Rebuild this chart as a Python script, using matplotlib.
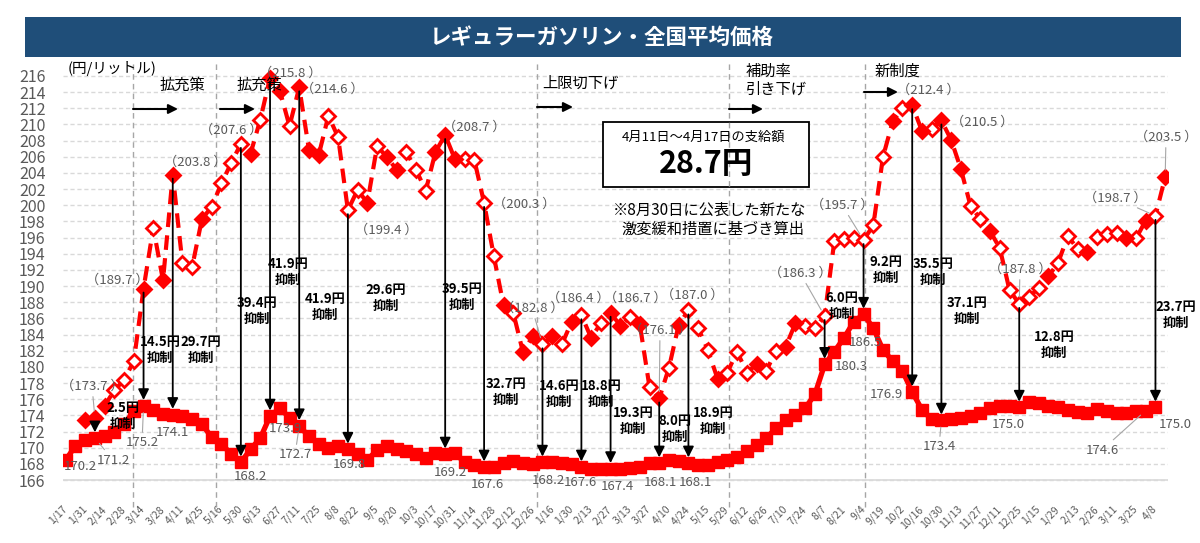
import matplotlib
matplotlib.use('Agg')
import matplotlib.pyplot as plt
import numpy as np
from matplotlib.patches import Rectangle

plt.rcParams['font.family'] = ['Noto Sans CJK JP', 'DejaVu Sans']

W, H = 1200, 543

# x-axis labels (every other weekly survey)
week_labels = ['1/17', '1/31', '2/14', '2/28', '3/14', '3/28', '4/11', '4/25', '5/16', '5/30',
               '6/13', '6/27', '7/11', '7/25', '8/8', '8/22', '9/5', '9/20', '10/3', '10/17',
               '10/31', '11/14', '11/28', '12/12', '12/26', '1/16', '1/30', '2/13', '2/27', '3/13',
               '3/27', '4/10', '4/24', '5/15', '5/29', '6/12', '6/26', '7/10', '7/24', '8/7',
               '8/21', '9/4', '9/19', '10/2', '10/16', '10/30', '11/13', '11/27', '12/11', '12/25',
               '1/15', '1/29', '2/13', '2/26', '3/11', '3/25', '4/8']

# national average with subsidy (solid)
price_actual = [168.5, 170.2, 171.0, 171.2, 171.5, 172.0, 172.9, 174.5, 175.2, 174.7,
                174.2, 174.1, 173.9, 173.6, 172.9, 171.3, 170.5, 169.2, 168.2, 169.8,
                171.2, 173.9, 174.9, 173.7, 172.7, 171.4, 170.4, 170.0, 170.2, 169.8,
                169.2, 168.5, 169.7, 170.2, 169.9, 169.6, 169.2, 168.7, 169.3, 169.2,
                169.3, 168.2, 167.9, 167.6, 167.6, 168.1, 168.3, 168.1, 168.0, 168.2,
                168.2, 168.1, 168.0, 167.6, 167.4, 167.4, 167.4, 167.4, 167.5, 167.6,
                168.1, 168.1, 168.5, 168.3, 168.1, 167.9, 167.9, 168.2, 168.5, 168.9,
                169.6, 170.3, 171.2, 172.4, 173.4, 174.1, 174.9, 176.6, 180.3, 181.9,
                183.6, 185.6, 186.5, 184.8, 182.1, 180.7, 179.5, 176.9, 174.7, 173.5,
                173.4, 173.6, 173.7, 173.9, 174.3, 174.9, 175.2, 175.2, 175.0, 175.7,
                175.5, 175.2, 175.0, 174.7, 174.4, 174.3, 174.8, 174.5, 174.3, 174.3,
                174.5, 174.6, 175.0]

# estimated price without subsidy (dashed)
price_no_subsidy = [np.nan, np.nan, 173.4, 173.7, 175.2, 177.1, 178.4, 180.7, 189.7, 197.2,
                    190.7, 203.8, 192.8, 192.4, 198.3, 199.8, 202.7, 205.2, 207.6, 206.4,
                    210.6, 215.8, 214.2, 209.8, 214.6, 206.9, 206.2, 211.1, 208.4, 199.4,
                    201.9, 200.3, 207.3, 206.0, 204.4, 206.6, 204.4, 201.8, 206.6, 208.7,
                    205.7, 205.7, 205.6, 200.3, 193.7, 187.6, 186.7, 181.8, 183.8, 182.8,
                    183.8, 182.8, 185.6, 186.4, 183.6, 185.4, 186.7, 185.1, 186.2, 185.3,
                    177.5, 176.1, 179.9, 185.2, 187.0, 184.8, 182.1, 178.5, 179.3, 181.9,
                    179.3, 180.3, 179.5, 182.0, 182.5, 185.4, 185.1, 184.8, 186.3, 195.6,
                    195.8, 196.0, 195.7, 197.5, 206.0, 210.4, 212.0, 212.4, 209.2, 209.5,
                    210.5, 208.1, 204.5, 199.9, 198.3, 196.8, 194.7, 189.5, 187.8, 188.6,
                    189.8, 191.2, 192.9, 196.2, 194.6, 194.2, 196.1, 196.5, 196.6, 195.9,
                    195.9, 198.1, 198.7, 203.5]

filled_points = [2, 3, 4, 8, 10, 11, 14, 19, 21, 22, 24, 25, 26, 31, 33, 34, 38, 39, 40, 45,
                 47, 48, 50, 52, 54, 56, 57, 59, 61, 63, 67, 71, 74, 75, 85, 87, 88, 90, 91,
                 92, 95, 101, 105, 109, 111, 113]

# weeks with a suppression arrow
arrow_weeks = [3, 8, 11, 18, 21, 24, 29, 39, 43, 49, 53, 56, 61, 64, 78, 82, 87, 90, 98, 112]

# policy change separators (position in weeks)
separators = [6.95, 15.45, 48.4, 68.2, 82.1]

# ---- label layout (figure pixels from top-left) ----
no_subsidy_label_pos = [(3, 92, 386, True), (8, 117, 280, False), (11, 195, 162, False),
                        (18, 231, 130, False), (21, 290, 73, False), (24, 332, 89, False),
                        (29, 386, 230, False), (39, 474, 127, False), (43, 524, 204, False),
                        (49, 532, 308, True), (53, 578, 298, False), (56, 635, 298, False),
                        (61, 660, 330, True), (64, 692, 295, False), (78, 800, 273, True),
                        (82, 842, 205, True), (87, 928, 90, False), (90, 982, 122, False),
                        (98, 1020, 269, True), (112, 1115, 198, True), (113, 1166, 137, True)]
actual_label_pos = [(1, 80, 467, False), (3, 113, 460, True), (8, 142, 443, True),
                    (11, 172, 433, False), (18, 250, 477, False), (21, 285, 429, False),
                    (24, 295, 455, True), (29, 349, 464, False), (39, 450, 472, False),
                    (43, 487, 484, False), (49, 548, 480, False), (53, 580, 482, False),
                    (56, 617, 487, False), (61, 660, 482, False), (64, 695, 482, False),
                    (78, 851, 366, False), (82, 865, 343, False), (87, 886, 395, False),
                    (90, 939, 447, True), (98, 1008, 425, False), (111, 1102, 450, True),
                    (112, 1175, 425, False)]
suppress_label_pos = {3: (123, 416), 8: (160, 350), 11: (201, 350), 18: (257, 311),
                      21: (288, 272), 24: (325, 307), 29: (386, 298), 39: (462, 297),
                      43: (506, 392), 49: (559, 394), 53: (601, 394), 56: (633, 421),
                      61: (675, 429), 64: (713, 421), 78: (842, 306), 82: (886, 270),
                      87: (933, 272), 90: (967, 311), 98: (1054, 345), 112: (1176, 315)}

RED = '#FF0000'
GRAY = '#595959'


def fx(x):
    return x / W


def fy(y):
    return 1 - y / H


fig = plt.figure(figsize=(12, 5.43), dpi=100)
ax = fig.add_axes([62.8 / W, 54.9 / H, 1105.3 / W, 420.2 / H])

n_act = len(price_actual)
n_all = len(price_no_subsidy)
x_act = np.arange(n_act)
x_all = np.arange(n_all)
no_sub = np.array(price_no_subsidy, dtype=float)

# solid line
ax.plot(x_act, price_actual, color=RED, lw=3.8, marker='s', ms=8.5, zorder=3)

# dashed line with diamonds
ax.plot(x_all, no_sub, color=RED, lw=3, dashes=(3.5, 2), zorder=4)
hollow = [i for i in x_all if i not in filled_points and not np.isnan(no_sub[i])]
ax.plot(hollow, no_sub[hollow], ls='none', marker='D', ms=7, mfc='white', mec=RED, mew=2, zorder=5)
ax.plot(filled_points, no_sub[filled_points], ls='none', marker='D', ms=7, mfc=RED, mec=RED, mew=2, zorder=5)

# suppression arrows
for i in arrow_weeks:
    ax.annotate('', xy=(i, price_actual[i] + 0.7), xytext=(i, no_sub[i] - 0.5),
                arrowprops=dict(arrowstyle='-|>', color='black', lw=1.3, mutation_scale=16,
                                shrinkA=0, shrinkB=0), zorder=6)
    px, py = suppress_label_pos[i]
    fig.text(fx(px), fy(py), f'{no_sub[i] - price_actual[i]:.1f}円\n抑制', ha='center', va='center',
             fontsize=9.5, fontweight='bold', linespacing=1.15, color='black')


def value_label(i, val, px, py, leader, fmt):
    props = None
    if leader:
        props = dict(arrowstyle='-', color='#A6A6A6', lw=0.8, shrinkA=1, shrinkB=5)
    ax.annotate(fmt.format(val), xy=(i, val), xytext=(px, H - py), textcoords='figure pixels',
                ha='center', va='center', fontsize=9.5, color=GRAY, arrowprops=props, zorder=7)


for i, px, py, leader in no_subsidy_label_pos:
    value_label(i, no_sub[i], px, py, leader, '（{:.1f} ）')
for i, px, py, leader in actual_label_pos:
    value_label(i, price_actual[i], px, py, leader, '{:.1f}')

# separators
for s in separators:
    ax.plot([s, s], [162.6, 218.0], color='#A6A6A6', lw=1, dashes=(4, 3), clip_on=False, zorder=2)

# axes styling
ax.set_xlim(-0.3, 113.3)
ax.set_ylim(165, 217)
ax.set_yticks(range(166, 217, 2))
ax.set_xticks(range(0, n_act, 2))
ax.set_xticklabels(week_labels)
for lab in ax.get_xticklabels():
    lab.set_rotation(45)
    lab.set_rotation_mode('anchor')
    lab.set_ha('right')
    lab.set_va('center')
ax.tick_params(axis='x', length=0, pad=14, labelsize=7.5, labelcolor=GRAY)
ax.tick_params(axis='y', length=0, pad=12.5, labelsize=11.5, labelcolor=GRAY)
for sp in ax.spines.values():
    sp.set_visible(False)
ax.set_axisbelow(True)
ax.yaxis.grid(True, color='#D9D9D9', lw=1, dashes=(3, 2))
ax.axhline(166, color='#D9D9D9', lw=1.2, zorder=0.5)

# title bar
fig.patches.append(Rectangle((fx(25), fy(57)), (1181 - 25) / W, 40 / H, transform=fig.transFigure,
                             facecolor='#1F4E79', edgecolor='none', zorder=0))
fig.text(fx(602), fy(37), 'レギュラーガソリン・全国平均価格', ha='center', va='center',
         fontsize=15.5, fontweight='bold', color='white')

fig.text(fx(68), fy(68), '(円/リットル)', ha='left', va='center', fontsize=10.5)

# policy captions with arrows
captions = [('拡充策', 182, 85, 133, 178, 109), ('拡充策', 259, 85, 220, 255, 109),
            ('上限切下げ', 580, 83, 537, 573, 107), ('補助率\n引き下げ', 776, 80, 729, 763, 109),
            ('新制度', 897, 71, 864, 898, 92)]
for txt, tx, ty, a0, a1, ay in captions:
    fig.text(fx(tx), fy(ty), txt, ha='center', va='center', fontsize=11, linespacing=1.05,
             multialignment='left')
    ax.annotate('', xy=(a1, H - ay), xytext=(a0, H - ay), xycoords='figure pixels',
                textcoords='figure pixels',
                arrowprops=dict(arrowstyle='-|>', color='black', lw=1.5, mutation_scale=14,
                                shrinkA=0, shrinkB=0))

# payment box
ax.add_patch(Rectangle((fx(603), fy(187)), (809 - 603) / W, 65 / H, transform=fig.transFigure,
                       facecolor='white', edgecolor='black', lw=1.3, clip_on=False, zorder=1.5))
fig.text(fx(704), fy(137), '4月11日～4月17日の支給額', ha='center', va='center', fontsize=9.5)
fig.text(fx(706), fy(164), '28.7円', ha='center', va='center', fontsize=22, fontweight='bold')
fig.text(fx(613), fy(210), '※8月30日に公表した新たな', ha='left', va='center', fontsize=11)
fig.text(fx(621), fy(229), '激変緩和措置に基づき算出', ha='left', va='center', fontsize=11)

fig.savefig('out.png', dpi=100)
